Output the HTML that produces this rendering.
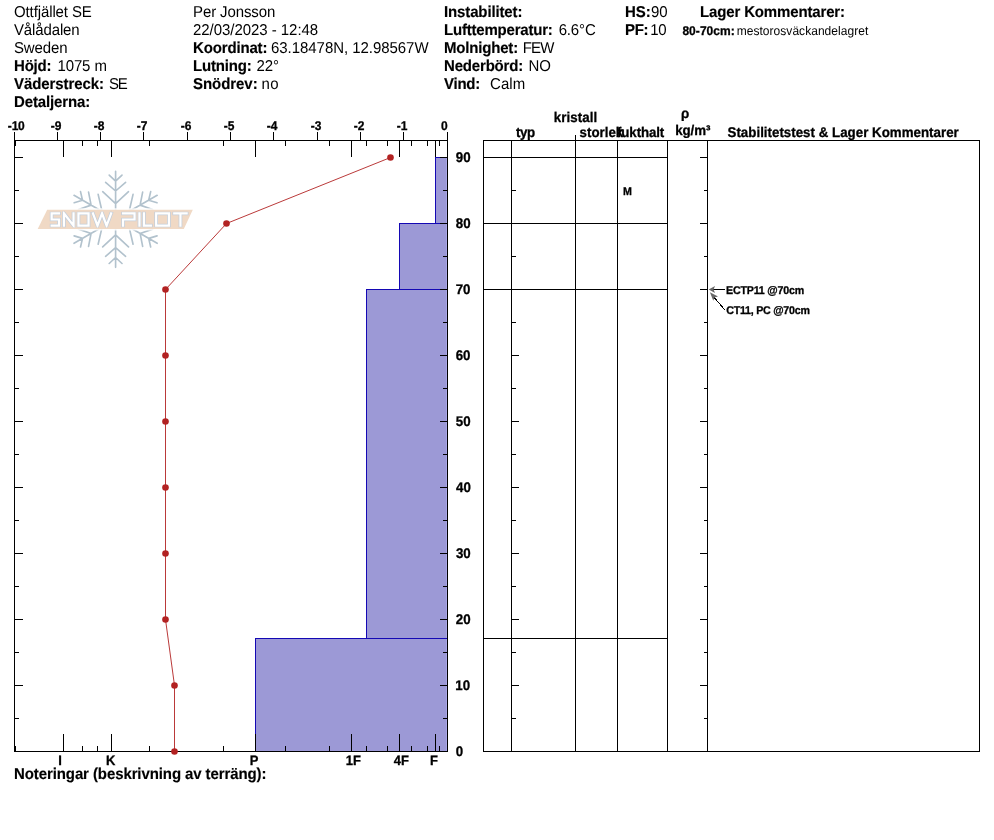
<!DOCTYPE html>
<html><head><meta charset="utf-8"><title>Snow profile</title>
<style>
html,body{margin:0;padding:0;background:#fff;}
body{width:994px;height:840px;overflow:hidden;}
svg{display:block;font-family:"Liberation Sans",sans-serif;will-change:transform;}
svg rect{shape-rendering:crispEdges;}
svg text{text-rendering:geometricPrecision;}
</style></head><body>
<svg width="994" height="840" viewBox="0 0 994 840">
<rect x="0" y="0" width="994" height="840" fill="#ffffff"/>
<text transform="matrix(1 0 0 1.05 0 -0.850)" x="14.00" y="17" font-size="15" letter-spacing="-0.113" fill="#000" xml:space="preserve">Ottfjället SE</text>
<text transform="matrix(1 0 0 1.05 0 -1.750)" x="14.00" y="35" font-size="15" letter-spacing="-0.131" fill="#000" xml:space="preserve">Vålådalen</text>
<text transform="matrix(1 0 0 1.05 0 -2.650)" x="14.00" y="53" font-size="15" letter-spacing="-0.146" fill="#000" xml:space="preserve">Sweden</text>
<text transform="matrix(1 0 0 1.05 0 -3.550)" x="14.00" y="71" font-size="15" font-weight="bold" stroke="#000" stroke-width="0.15" letter-spacing="-0.194" fill="#000" xml:space="preserve">Höjd:</text>
<text transform="matrix(1 0 0 1.05 0 -3.550)" x="57.46" y="71" font-size="15" letter-spacing="-0.120" fill="#000" xml:space="preserve">1075 m</text>
<text transform="matrix(1 0 0 1.05 0 -4.450)" x="14.00" y="89" font-size="15" font-weight="bold" stroke="#000" stroke-width="0.15" letter-spacing="-0.077" fill="#000" xml:space="preserve">Väderstreck:</text>
<text transform="matrix(1 0 0 1.05 0 -4.450)" x="109.12" y="89" font-size="15" letter-spacing="-1.384" fill="#000" xml:space="preserve">SE</text>
<text transform="matrix(1 0 0 1.05 0 -5.350)" x="14.00" y="107" font-size="15" font-weight="bold" stroke="#000" stroke-width="0.15" letter-spacing="-0.128" fill="#000" xml:space="preserve">Detaljerna:</text>
<text transform="matrix(1 0 0 1.05 0 -0.850)" x="193.00" y="17" font-size="15" letter-spacing="-0.110" fill="#000" xml:space="preserve">Per Jonsson</text>
<text transform="matrix(1 0 0 1.05 0 -1.750)" x="193.00" y="35" font-size="15" letter-spacing="-0.046" fill="#000" xml:space="preserve">22/03/2023 - 12:48</text>
<text transform="matrix(1 0 0 1.05 0 -2.650)" x="193.00" y="53" font-size="15" font-weight="bold" stroke="#000" stroke-width="0.15" letter-spacing="-0.153" fill="#000" xml:space="preserve">Koordinat:</text>
<text transform="matrix(1 0 0 1.05 0 -2.650)" x="271.04" y="53" font-size="15" letter-spacing="-0.049" fill="#000" xml:space="preserve">63.18478N, 12.98567W</text>
<text transform="matrix(1 0 0 1.05 0 -3.550)" x="193.00" y="71" font-size="15" font-weight="bold" stroke="#000" stroke-width="0.15" letter-spacing="-0.161" fill="#000" xml:space="preserve">Lutning:</text>
<text transform="matrix(1 0 0 1.05 0 -3.550)" x="256.45" y="71" font-size="15" letter-spacing="-0.114" fill="#000" xml:space="preserve">22°</text>
<text transform="matrix(1 0 0 1.05 0 -4.450)" x="193.00" y="89" font-size="15" font-weight="bold" stroke="#000" stroke-width="0.15" letter-spacing="-0.052" fill="#000" xml:space="preserve">Snödrev:</text>
<text transform="matrix(1 0 0 1.05 0 -4.450)" x="261.50" y="89" font-size="15" letter-spacing="0.441" fill="#000" xml:space="preserve">no</text>
<text transform="matrix(1 0 0 1.05 0 -0.850)" x="444.00" y="17" font-size="15" font-weight="bold" stroke="#000" stroke-width="0.15" letter-spacing="-0.130" fill="#000" xml:space="preserve">Instabilitet:</text>
<text transform="matrix(1 0 0 1.05 0 -1.750)" x="444.00" y="35" font-size="15" font-weight="bold" stroke="#000" stroke-width="0.15" letter-spacing="-0.202" fill="#000" xml:space="preserve">Lufttemperatur:</text>
<text transform="matrix(1 0 0 1.05 0 -1.750)" x="558.64" y="35" font-size="15" letter-spacing="-0.138" fill="#000" xml:space="preserve">6.6°C</text>
<text transform="matrix(1 0 0 1.05 0 -2.650)" x="444.00" y="53" font-size="15" font-weight="bold" stroke="#000" stroke-width="0.15" letter-spacing="-0.186" fill="#000" xml:space="preserve">Molnighet:</text>
<text transform="matrix(1 0 0 1.05 0 -2.650)" x="522.77" y="53" font-size="15" letter-spacing="-0.872" fill="#000" xml:space="preserve">FEW</text>
<text transform="matrix(1 0 0 1.05 0 -3.550)" x="444.00" y="71" font-size="15" font-weight="bold" stroke="#000" stroke-width="0.15" letter-spacing="-0.177" fill="#000" xml:space="preserve">Nederbörd:</text>
<text transform="matrix(1 0 0 1.05 0 -3.550)" x="528.57" y="71" font-size="15" letter-spacing="-0.052" fill="#000" xml:space="preserve">NO</text>
<text transform="matrix(1 0 0 1.05 0 -4.450)" x="444.00" y="89" font-size="15" font-weight="bold" stroke="#000" stroke-width="0.15" letter-spacing="-0.262" fill="#000" xml:space="preserve">Vind:</text>
<text transform="matrix(1 0 0 1.05 0 -4.450)" x="490.04" y="89" font-size="15" letter-spacing="0.083" fill="#000" xml:space="preserve">Calm</text>
<text transform="matrix(1 0 0 1.05 0 -0.850)" x="625.00" y="17" font-size="15" font-weight="bold" stroke="#000" stroke-width="0.15" letter-spacing="-0.045" fill="#000" xml:space="preserve">HS:</text>
<text transform="matrix(1 0 0 1.05 0 -0.850)" x="651.10" y="17" font-size="15" letter-spacing="-0.196" fill="#000" xml:space="preserve">90</text>
<text transform="matrix(1 0 0 1.05 0 -1.750)" x="625.00" y="35" font-size="15" font-weight="bold" stroke="#000" stroke-width="0.15" letter-spacing="-0.360" fill="#000" xml:space="preserve">PF:</text>
<text transform="matrix(1 0 0 1.05 0 -1.750)" x="650.16" y="35" font-size="15" letter-spacing="-0.156" fill="#000" xml:space="preserve">10</text>
<text transform="matrix(1 0 0 1.05 0 -0.850)" x="700.00" y="17" font-size="15" font-weight="bold" stroke="#000" stroke-width="0.15" letter-spacing="-0.147" fill="#000" xml:space="preserve">Lager Kommentarer:</text>
<text transform="matrix(1 0 0 1.05 0 -1.750)" x="682.42" y="35" font-size="12" font-weight="bold" stroke="#000" stroke-width="0.28" letter-spacing="0.043" fill="#000" xml:space="preserve">80-70cm:</text>
<text transform="matrix(1 0 0 1.05 0 -1.750)" x="736.70" y="35" font-size="12" letter-spacing="0.040" fill="#000" xml:space="preserve">mestorosväckandelagret</text>
<rect x="435" y="157" width="12" height="66" fill="#9c99d6"/>
<rect x="399" y="223" width="48" height="66" fill="#9c99d6"/>
<rect x="366" y="289" width="81" height="349" fill="#9c99d6"/>
<rect x="255" y="638" width="192" height="113" fill="#9c99d6"/>
<rect x="446" y="157" width="1" height="594" fill="#a9a7e6"/>
<rect x="435" y="157" width="12" height="1" fill="#1408b4"/>
<rect x="435" y="157" width="1" height="67" fill="#1408b4"/>
<rect x="399" y="223" width="48" height="1" fill="#1408b4"/>
<rect x="399" y="223" width="1" height="67" fill="#1408b4"/>
<rect x="366" y="289" width="81" height="1" fill="#1408b4"/>
<rect x="366" y="289" width="1" height="350" fill="#1408b4"/>
<rect x="255" y="638" width="192" height="1" fill="#1408b4"/>
<rect x="255" y="638" width="1" height="114" fill="#1408b4"/>
<rect x="14" y="140" width="434" height="1" fill="#000"/>
<rect x="14" y="751" width="434" height="1" fill="#000"/>
<rect x="14" y="140" width="1" height="612" fill="#000"/>
<rect x="447" y="140" width="1" height="612" fill="#000"/>
<rect x="14" y="132" width="1" height="9" fill="#000"/>
<text transform="matrix(1 0 0 1.05 0 -6.500)" x="7.83" y="130" font-size="12" font-weight="bold" stroke="#000" stroke-width="0.28" letter-spacing="-0.191" fill="#000" xml:space="preserve">-10</text>
<rect x="57" y="132" width="1" height="9" fill="#000"/>
<text transform="matrix(1 0 0 1.05 0 -6.500)" x="50.83" y="130" font-size="12" font-weight="bold" stroke="#000" stroke-width="0.28" letter-spacing="0.000" fill="#000" xml:space="preserve">-9</text>
<rect x="100" y="132" width="1" height="9" fill="#000"/>
<text transform="matrix(1 0 0 1.05 0 -6.500)" x="93.83" y="130" font-size="12" font-weight="bold" stroke="#000" stroke-width="0.28" letter-spacing="0.000" fill="#000" xml:space="preserve">-8</text>
<rect x="143" y="132" width="1" height="9" fill="#000"/>
<text transform="matrix(1 0 0 1.05 0 -6.500)" x="136.83" y="130" font-size="12" font-weight="bold" stroke="#000" stroke-width="0.28" letter-spacing="0.000" fill="#000" xml:space="preserve">-7</text>
<rect x="187" y="132" width="1" height="9" fill="#000"/>
<text transform="matrix(1 0 0 1.05 0 -6.500)" x="180.83" y="130" font-size="12" font-weight="bold" stroke="#000" stroke-width="0.28" letter-spacing="0.000" fill="#000" xml:space="preserve">-6</text>
<rect x="230" y="132" width="1" height="9" fill="#000"/>
<text transform="matrix(1 0 0 1.05 0 -6.500)" x="223.83" y="130" font-size="12" font-weight="bold" stroke="#000" stroke-width="0.28" letter-spacing="0.000" fill="#000" xml:space="preserve">-5</text>
<rect x="273" y="132" width="1" height="9" fill="#000"/>
<text transform="matrix(1 0 0 1.05 0 -6.500)" x="266.83" y="130" font-size="12" font-weight="bold" stroke="#000" stroke-width="0.28" letter-spacing="0.000" fill="#000" xml:space="preserve">-4</text>
<rect x="317" y="132" width="1" height="9" fill="#000"/>
<text transform="matrix(1 0 0 1.05 0 -6.500)" x="310.83" y="130" font-size="12" font-weight="bold" stroke="#000" stroke-width="0.28" letter-spacing="0.000" fill="#000" xml:space="preserve">-3</text>
<rect x="360" y="132" width="1" height="9" fill="#000"/>
<text transform="matrix(1 0 0 1.05 0 -6.500)" x="353.83" y="130" font-size="12" font-weight="bold" stroke="#000" stroke-width="0.28" letter-spacing="0.000" fill="#000" xml:space="preserve">-2</text>
<rect x="403" y="132" width="1" height="9" fill="#000"/>
<text transform="matrix(1 0 0 1.05 0 -6.500)" x="396.83" y="130" font-size="12" font-weight="bold" stroke="#000" stroke-width="0.28" letter-spacing="0.000" fill="#000" xml:space="preserve">-1</text>
<rect x="447" y="132" width="1" height="9" fill="#000"/>
<text transform="matrix(1 0 0 1.05 0 -6.500)" x="440.93" y="130" font-size="12" font-weight="bold" stroke="#000" stroke-width="0.28" letter-spacing="0.000" fill="#000" xml:space="preserve">0</text>
<rect x="63" y="140" width="1" height="17" fill="#000"/>
<rect x="63" y="734" width="1" height="18" fill="#000"/>
<rect x="111" y="140" width="1" height="17" fill="#000"/>
<rect x="111" y="734" width="1" height="18" fill="#000"/>
<rect x="255" y="140" width="1" height="17" fill="#000"/>
<rect x="255" y="734" width="1" height="18" fill="#000"/>
<rect x="351" y="140" width="1" height="17" fill="#000"/>
<rect x="351" y="734" width="1" height="18" fill="#000"/>
<rect x="399" y="140" width="1" height="17" fill="#000"/>
<rect x="399" y="734" width="1" height="18" fill="#000"/>
<rect x="435" y="140" width="1" height="17" fill="#000"/>
<rect x="435" y="734" width="1" height="18" fill="#000"/>
<rect x="15" y="140" width="1" height="6" fill="#000"/>
<rect x="15" y="746" width="1" height="6" fill="#000"/>
<rect x="82" y="140" width="1" height="6" fill="#000"/>
<rect x="82" y="746" width="1" height="6" fill="#000"/>
<rect x="97" y="140" width="1" height="6" fill="#000"/>
<rect x="97" y="746" width="1" height="6" fill="#000"/>
<rect x="149" y="140" width="1" height="6" fill="#000"/>
<rect x="149" y="746" width="1" height="6" fill="#000"/>
<rect x="223" y="140" width="1" height="6" fill="#000"/>
<rect x="223" y="746" width="1" height="6" fill="#000"/>
<rect x="285" y="140" width="1" height="6" fill="#000"/>
<rect x="285" y="746" width="1" height="6" fill="#000"/>
<rect x="329" y="140" width="1" height="6" fill="#000"/>
<rect x="329" y="746" width="1" height="6" fill="#000"/>
<rect x="366" y="140" width="1" height="6" fill="#000"/>
<rect x="366" y="746" width="1" height="6" fill="#000"/>
<rect x="387" y="140" width="1" height="6" fill="#000"/>
<rect x="387" y="746" width="1" height="6" fill="#000"/>
<rect x="411" y="140" width="1" height="6" fill="#000"/>
<rect x="411" y="746" width="1" height="6" fill="#000"/>
<rect x="427" y="140" width="1" height="6" fill="#000"/>
<rect x="427" y="746" width="1" height="6" fill="#000"/>
<rect x="439" y="140" width="1" height="6" fill="#000"/>
<rect x="439" y="746" width="1" height="6" fill="#000"/>
<text transform="matrix(1 0 0 1.05 0 -38.250)" x="58.19" y="765" font-size="13" font-weight="bold" stroke="#000" stroke-width="0.28" letter-spacing="0.000" fill="#000" xml:space="preserve">I</text>
<text transform="matrix(1 0 0 1.05 0 -38.250)" x="105.88" y="765" font-size="13" font-weight="bold" stroke="#000" stroke-width="0.28" letter-spacing="0.000" fill="#000" xml:space="preserve">K</text>
<text transform="matrix(1 0 0 1.05 0 -38.250)" x="249.80" y="765" font-size="13" font-weight="bold" stroke="#000" stroke-width="0.28" letter-spacing="0.000" fill="#000" xml:space="preserve">P</text>
<text transform="matrix(1 0 0 1.05 0 -38.250)" x="345.74" y="765" font-size="13" font-weight="bold" stroke="#000" stroke-width="0.28" letter-spacing="0.000" fill="#000" xml:space="preserve">1F</text>
<text transform="matrix(1 0 0 1.05 0 -38.250)" x="393.75" y="765" font-size="13" font-weight="bold" stroke="#000" stroke-width="0.28" letter-spacing="0.000" fill="#000" xml:space="preserve">4F</text>
<text transform="matrix(1 0 0 1.05 0 -38.250)" x="430.08" y="765" font-size="13" font-weight="bold" stroke="#000" stroke-width="0.28" letter-spacing="0.000" fill="#000" xml:space="preserve">F</text>
<rect x="14" y="751" width="9" height="1" fill="#000"/>
<rect x="440" y="751" width="8" height="1" fill="#000"/>
<text transform="matrix(1 0 0 1.05 0 -37.800)" x="455.67" y="756" font-size="13.33" font-weight="bold" stroke="#000" stroke-width="0.28" letter-spacing="0.000" fill="#000" xml:space="preserve">0</text>
<rect x="14" y="718" width="5" height="1" fill="#000"/>
<rect x="443" y="718" width="5" height="1" fill="#000"/>
<rect x="14" y="685" width="9" height="1" fill="#000"/>
<rect x="440" y="685" width="8" height="1" fill="#000"/>
<text transform="matrix(1 0 0 1.05 0 -34.500)" x="455.36" y="690" font-size="13.33" font-weight="bold" stroke="#000" stroke-width="0.28" letter-spacing="0.000" fill="#000" xml:space="preserve">10</text>
<rect x="14" y="652" width="5" height="1" fill="#000"/>
<rect x="443" y="652" width="5" height="1" fill="#000"/>
<rect x="14" y="619" width="9" height="1" fill="#000"/>
<rect x="440" y="619" width="8" height="1" fill="#000"/>
<text transform="matrix(1 0 0 1.05 0 -31.200)" x="455.74" y="624" font-size="13.33" font-weight="bold" stroke="#000" stroke-width="0.28" letter-spacing="0.000" fill="#000" xml:space="preserve">20</text>
<rect x="14" y="586" width="5" height="1" fill="#000"/>
<rect x="443" y="586" width="5" height="1" fill="#000"/>
<rect x="14" y="553" width="9" height="1" fill="#000"/>
<rect x="440" y="553" width="8" height="1" fill="#000"/>
<text transform="matrix(1 0 0 1.05 0 -27.900)" x="455.89" y="558" font-size="13.33" font-weight="bold" stroke="#000" stroke-width="0.28" letter-spacing="0.000" fill="#000" xml:space="preserve">30</text>
<rect x="14" y="520" width="5" height="1" fill="#000"/>
<rect x="443" y="520" width="5" height="1" fill="#000"/>
<rect x="14" y="487" width="9" height="1" fill="#000"/>
<rect x="440" y="487" width="8" height="1" fill="#000"/>
<text transform="matrix(1 0 0 1.05 0 -24.600)" x="456.00" y="492" font-size="13.33" font-weight="bold" stroke="#000" stroke-width="0.28" letter-spacing="0.000" fill="#000" xml:space="preserve">40</text>
<rect x="14" y="454" width="5" height="1" fill="#000"/>
<rect x="443" y="454" width="5" height="1" fill="#000"/>
<rect x="14" y="421" width="9" height="1" fill="#000"/>
<rect x="440" y="421" width="8" height="1" fill="#000"/>
<text transform="matrix(1 0 0 1.05 0 -21.300)" x="455.79" y="426" font-size="13.33" font-weight="bold" stroke="#000" stroke-width="0.28" letter-spacing="0.000" fill="#000" xml:space="preserve">50</text>
<rect x="14" y="388" width="5" height="1" fill="#000"/>
<rect x="443" y="388" width="5" height="1" fill="#000"/>
<rect x="14" y="355" width="9" height="1" fill="#000"/>
<rect x="440" y="355" width="8" height="1" fill="#000"/>
<text transform="matrix(1 0 0 1.05 0 -18.000)" x="455.71" y="360" font-size="13.33" font-weight="bold" stroke="#000" stroke-width="0.28" letter-spacing="0.000" fill="#000" xml:space="preserve">60</text>
<rect x="14" y="322" width="5" height="1" fill="#000"/>
<rect x="443" y="322" width="5" height="1" fill="#000"/>
<rect x="14" y="289" width="9" height="1" fill="#000"/>
<rect x="440" y="289" width="8" height="1" fill="#000"/>
<text transform="matrix(1 0 0 1.05 0 -14.700)" x="455.63" y="294" font-size="13.33" font-weight="bold" stroke="#000" stroke-width="0.28" letter-spacing="0.000" fill="#000" xml:space="preserve">70</text>
<rect x="14" y="256" width="5" height="1" fill="#000"/>
<rect x="443" y="256" width="5" height="1" fill="#000"/>
<rect x="14" y="223" width="9" height="1" fill="#000"/>
<rect x="440" y="223" width="8" height="1" fill="#000"/>
<text transform="matrix(1 0 0 1.05 0 -11.400)" x="455.78" y="228" font-size="13.33" font-weight="bold" stroke="#000" stroke-width="0.28" letter-spacing="0.000" fill="#000" xml:space="preserve">80</text>
<rect x="14" y="190" width="5" height="1" fill="#000"/>
<rect x="443" y="190" width="5" height="1" fill="#000"/>
<rect x="14" y="157" width="9" height="1" fill="#000"/>
<rect x="440" y="157" width="8" height="1" fill="#000"/>
<text transform="matrix(1 0 0 1.05 0 -8.100)" x="455.74" y="162" font-size="13.33" font-weight="bold" stroke="#000" stroke-width="0.28" letter-spacing="0.000" fill="#000" xml:space="preserve">90</text>
<filter id="bl" x="-10%" y="-10%" width="120%" height="120%"><feGaussianBlur stdDeviation="0.4"/></filter>
<g transform="translate(115.6 219.3)" stroke="#b2c2cd" stroke-width="1.65" fill="none" stroke-linecap="round" filter="url(#bl)"><path transform="rotate(0)" d="M0.00 0.00L0.00 -48.00M-6.40 -44.20L0.00 -38.20M6.40 -44.20L0.00 -38.20M-10.00 -37.00L0.00 -28.30M10.00 -37.00L0.00 -28.30M-12.90 -27.60L0.00 -15.60M12.90 -27.60L0.00 -15.60"/><path transform="rotate(60)" d="M0.00 0.00L0.00 -48.00M-6.40 -44.20L0.00 -38.20M6.40 -44.20L0.00 -38.20M-10.00 -37.00L0.00 -28.30M10.00 -37.00L0.00 -28.30M-12.90 -27.60L0.00 -15.60M12.90 -27.60L0.00 -15.60"/><path transform="rotate(120)" d="M0.00 0.00L0.00 -48.00M-6.40 -44.20L0.00 -38.20M6.40 -44.20L0.00 -38.20M-10.00 -37.00L0.00 -28.30M10.00 -37.00L0.00 -28.30M-12.90 -27.60L0.00 -15.60M12.90 -27.60L0.00 -15.60"/><path transform="rotate(180)" d="M0.00 0.00L0.00 -48.00M-6.40 -44.20L0.00 -38.20M6.40 -44.20L0.00 -38.20M-10.00 -37.00L0.00 -28.30M10.00 -37.00L0.00 -28.30M-12.90 -27.60L0.00 -15.60M12.90 -27.60L0.00 -15.60"/><path transform="rotate(240)" d="M0.00 0.00L0.00 -48.00M-6.40 -44.20L0.00 -38.20M6.40 -44.20L0.00 -38.20M-10.00 -37.00L0.00 -28.30M10.00 -37.00L0.00 -28.30M-12.90 -27.60L0.00 -15.60M12.90 -27.60L0.00 -15.60"/><path transform="rotate(300)" d="M0.00 0.00L0.00 -48.00M-6.40 -44.20L0.00 -38.20M6.40 -44.20L0.00 -38.20M-10.00 -37.00L0.00 -28.30M10.00 -37.00L0.00 -28.30M-12.90 -27.60L0.00 -15.60M12.90 -27.60L0.00 -15.60"/></g>
<polygon points="47.2,209.8 192.8,209.8 183.8,229 37.7,229" fill="#fff" stroke="#fff" stroke-width="3.2" opacity="0.85" filter="url(#bl)"/>
<polygon points="47.2,209.8 192.8,209.8 183.8,229 37.7,229" fill="#f0d9c5"/>
<clipPath id="lc"><rect x="45" y="211.55" width="150" height="15.9"/></clipPath>
<g clip-path="url(#lc)"><path d="M59.05 213.30L51.65 213.30L51.65 219.50L59.05 219.50L59.05 225.70L51.65 225.70M63.95 225.70L63.95 213.30L73.55 225.70L73.55 213.30M78.45 213.30L88.55 213.30L88.55 225.70L78.45 225.70ZM92.95 213.30L97.50 225.70L102.05 213.30L106.60 225.70L111.15 213.30M123.05 213.30L134.55 213.30L134.55 219.50L123.05 219.50L123.05 225.70M139.45 213.30L139.45 225.70M143.95 213.30L143.95 225.70L150.85 225.70M156.15 213.30L168.95 213.30L168.95 225.70L156.15 225.70ZM174.25 213.30L186.65 213.30M180.45 213.30L180.45 225.70" fill="none" stroke="#c3cedb" stroke-width="3.7" stroke-linejoin="miter" stroke-linecap="square"/>
<path d="M59.05 213.30L51.65 213.30L51.65 219.50L59.05 219.50L59.05 225.70L51.65 225.70M63.95 225.70L63.95 213.30L73.55 225.70L73.55 213.30M78.45 213.30L88.55 213.30L88.55 225.70L78.45 225.70ZM92.95 213.30L97.50 225.70L102.05 213.30L106.60 225.70L111.15 213.30M123.05 213.30L134.55 213.30L134.55 219.50L123.05 219.50L123.05 225.70M139.45 213.30L139.45 225.70M143.95 213.30L143.95 225.70L150.85 225.70M156.15 213.30L168.95 213.30L168.95 225.70L156.15 225.70ZM174.25 213.30L186.65 213.30M180.45 213.30L180.45 225.70" fill="none" stroke="#ffffff" stroke-width="2.2" stroke-linejoin="miter" stroke-linecap="square"/></g>
<polyline points="390.5,157.5 226.5,223.5 165.5,289.5 165.5,355.5 165.5,421.5 165.5,487.5 165.5,553.5 165.5,619.5 174.5,685.5 174.5,751.5" fill="none" stroke="#b22222" stroke-width="0.9"/>
<circle cx="390.5" cy="157.5" r="3.3" fill="#b22222"/>
<circle cx="226.5" cy="223.5" r="3.3" fill="#b22222"/>
<circle cx="165.5" cy="289.5" r="3.3" fill="#b22222"/>
<circle cx="165.5" cy="355.5" r="3.3" fill="#b22222"/>
<circle cx="165.5" cy="421.5" r="3.3" fill="#b22222"/>
<circle cx="165.5" cy="487.5" r="3.3" fill="#b22222"/>
<circle cx="165.5" cy="553.5" r="3.3" fill="#b22222"/>
<circle cx="165.5" cy="619.5" r="3.3" fill="#b22222"/>
<circle cx="174.5" cy="685.5" r="3.3" fill="#b22222"/>
<circle cx="174.5" cy="751.5" r="3.3" fill="#b22222"/>
<rect x="483" y="140" width="497" height="1" fill="#000"/>
<rect x="483" y="751" width="497" height="1" fill="#000"/>
<rect x="483" y="140" width="1" height="612" fill="#000"/>
<rect x="979" y="140" width="1" height="612" fill="#000"/>
<rect x="511" y="140" width="1" height="612" fill="#000"/>
<rect x="617" y="140" width="1" height="612" fill="#000"/>
<rect x="667" y="140" width="1" height="612" fill="#000"/>
<rect x="707" y="140" width="1" height="612" fill="#000"/>
<rect x="575" y="135" width="1" height="617" fill="#000"/>
<rect x="483" y="157" width="185" height="1" fill="#000"/>
<rect x="483" y="223" width="185" height="1" fill="#000"/>
<rect x="483" y="289" width="185" height="1" fill="#000"/>
<rect x="483" y="638" width="185" height="1" fill="#000"/>
<rect x="511" y="751" width="8" height="1" fill="#000"/>
<rect x="700" y="751" width="8" height="1" fill="#000"/>
<rect x="511" y="718" width="5" height="1" fill="#000"/>
<rect x="704" y="718" width="4" height="1" fill="#000"/>
<rect x="511" y="685" width="8" height="1" fill="#000"/>
<rect x="700" y="685" width="8" height="1" fill="#000"/>
<rect x="511" y="652" width="5" height="1" fill="#000"/>
<rect x="704" y="652" width="4" height="1" fill="#000"/>
<rect x="511" y="619" width="8" height="1" fill="#000"/>
<rect x="700" y="619" width="8" height="1" fill="#000"/>
<rect x="511" y="586" width="5" height="1" fill="#000"/>
<rect x="704" y="586" width="4" height="1" fill="#000"/>
<rect x="511" y="553" width="8" height="1" fill="#000"/>
<rect x="700" y="553" width="8" height="1" fill="#000"/>
<rect x="511" y="520" width="5" height="1" fill="#000"/>
<rect x="704" y="520" width="4" height="1" fill="#000"/>
<rect x="511" y="487" width="8" height="1" fill="#000"/>
<rect x="700" y="487" width="8" height="1" fill="#000"/>
<rect x="511" y="454" width="5" height="1" fill="#000"/>
<rect x="704" y="454" width="4" height="1" fill="#000"/>
<rect x="511" y="421" width="8" height="1" fill="#000"/>
<rect x="700" y="421" width="8" height="1" fill="#000"/>
<rect x="511" y="388" width="5" height="1" fill="#000"/>
<rect x="704" y="388" width="4" height="1" fill="#000"/>
<rect x="511" y="355" width="8" height="1" fill="#000"/>
<rect x="700" y="355" width="8" height="1" fill="#000"/>
<rect x="511" y="322" width="5" height="1" fill="#000"/>
<rect x="704" y="322" width="4" height="1" fill="#000"/>
<rect x="511" y="289" width="8" height="1" fill="#000"/>
<rect x="700" y="289" width="8" height="1" fill="#000"/>
<rect x="511" y="256" width="5" height="1" fill="#000"/>
<rect x="704" y="256" width="4" height="1" fill="#000"/>
<rect x="511" y="223" width="8" height="1" fill="#000"/>
<rect x="700" y="223" width="8" height="1" fill="#000"/>
<rect x="511" y="190" width="5" height="1" fill="#000"/>
<rect x="704" y="190" width="4" height="1" fill="#000"/>
<rect x="511" y="157" width="8" height="1" fill="#000"/>
<rect x="700" y="157" width="8" height="1" fill="#000"/>
<text transform="matrix(1 0 0 1.05 0 -6.100)" x="553.67" y="122" font-size="13.33" font-weight="bold" stroke="#000" stroke-width="0.28" letter-spacing="0.071" fill="#000" xml:space="preserve">kristall</text>
<text transform="matrix(1 0 0 1.05 0 -6.825)" x="515.94" y="136.5" font-size="13.33" font-weight="bold" stroke="#000" stroke-width="0.28" letter-spacing="-0.393" fill="#000" xml:space="preserve">typ</text>
<text transform="matrix(1 0 0 1.05 0 -6.825)" x="579.53" y="136.5" font-size="13.33" font-weight="bold" stroke="#000" stroke-width="0.28" letter-spacing="0.007" fill="#000" xml:space="preserve">storlek</text>
<text transform="matrix(1 0 0 1.05 0 -6.825)" x="617.07" y="136.5" font-size="13.33" font-weight="bold" stroke="#000" stroke-width="0.28" letter-spacing="-0.135" fill="#000" xml:space="preserve">fukthalt</text>
<text transform="matrix(1 0 0 1.05 0 -5.900)" x="681.11" y="118" font-size="13.33" font-weight="bold" stroke="#000" stroke-width="0.28" letter-spacing="0.000" fill="#000" xml:space="preserve">ρ</text>
<text transform="matrix(1 0 0 1.05 0 -6.750)" x="675.27" y="135" font-size="13.33" font-weight="bold" stroke="#000" stroke-width="0.28" letter-spacing="-0.108" fill="#000" xml:space="preserve">kg/m³</text>
<text transform="matrix(1 0 0 1.05 0 -6.850)" x="727.52" y="137" font-size="13.33" font-weight="bold" stroke="#000" stroke-width="0.28" letter-spacing="0.005" fill="#000" xml:space="preserve">Stabilitetstest &amp; Lager Kommentarer</text>
<text transform="matrix(1 0 0 1.05 0 -9.750)" x="622.99" y="195" font-size="10.67" font-weight="bold" stroke="#000" stroke-width="0.28" letter-spacing="0.000" fill="#000" xml:space="preserve">M</text>
<text transform="matrix(1 0 0 1.05 0 -14.700)" x="725.99" y="294" font-size="10.67" font-weight="bold" stroke="#000" stroke-width="0.28" letter-spacing="-0.183" fill="#000" xml:space="preserve">ECTP11 @70cm</text>
<text transform="matrix(1 0 0 1.05 0 -15.700)" x="726.26" y="314" font-size="10.67" font-weight="bold" stroke="#000" stroke-width="0.28" letter-spacing="-0.246" fill="#000" xml:space="preserve">CT11, PC @70cm</text>
<rect x="713" y="289" width="12" height="1" fill="#000"/>
<polygon points="708.7,289.5 715,286 713.6,289.5 715,293" fill="#686868"/>
<line x1="724.8" y1="309.8" x2="714" y2="297.3" stroke="#000" stroke-width="1" shape-rendering="crispEdges"/>
<polygon points="709.9,292.2 718,296.4 714.4,297.5 713.3,300.8" fill="#686868"/>
<text transform="matrix(1 0 0 1.05 0 -38.950)" x="14.00" y="779" font-size="15" font-weight="bold" stroke="#000" stroke-width="0.15" letter-spacing="-0.098" fill="#000" xml:space="preserve">Noteringar (beskrivning av terräng):</text>
</svg>
</body></html>
